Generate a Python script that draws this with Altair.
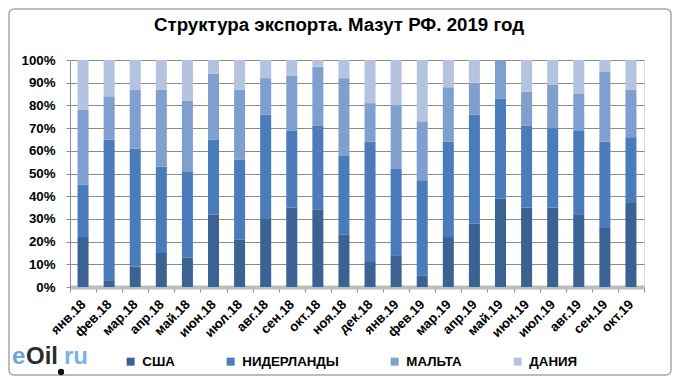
import altair as alt
import pandas as pd

months = ["янв.18", "фев.18", "мар.18", "апр.18", "май.18", "июн.18", "июл.18",
          "авг.18", "сен.18", "окт.18", "ноя.18", "дек.18", "янв.19", "фев.19",
          "мар.19", "апр.19", "май.19", "июн.19", "июл.19", "авг.19", "сен.19", "окт.19"]
series = ["США", "НИДЕРЛАНДЫ", "МАЛЬТА", "ДАНИЯ"]
colors = ["#3a6292", "#4a7bba", "#7f9fce", "#b4c3df"]

usa = [22, 3, 9, 15, 13, 32, 21, 30, 35, 34, 23, 11, 14, 5, 22, 28, 39, 35, 35, 32, 26, 37]
nl = [23, 62, 52, 38, 38, 33, 35, 46, 34, 37, 35, 53, 38, 42, 42, 48, 44, 36, 35, 37, 38, 29]
mt = [33, 19, 26, 34, 31, 29, 31, 16, 24, 26, 34, 17, 28, 26, 24, 14, 17, 15, 19, 16, 31, 21]
dk = [22, 16, 13, 13, 18, 6, 13, 8, 7, 3, 8, 19, 20, 27, 12, 10, 0, 14, 11, 15, 5, 13]

title_text = "Структура экспорта. Мазут РФ. 2019 год"
y_ticks = [i / 10 for i in range(11)]

rows = []
for i, m in enumerate(months):
    for j, (s, vals) in enumerate(zip(series, [usa, nl, mt, dk])):
        rows.append({"month": m, "series": s, "value": vals[i], "ord": j})
df = pd.DataFrame(rows)

FONT = "Liberation Sans"
FS = 13.3

bars = alt.Chart(df).mark_bar(size=11).encode(
    x=alt.X("month:N", sort=months, title=None,
            scale=alt.Scale(paddingInner=0, paddingOuter=0),
            axis=alt.Axis(labelAngle=-45, labelAlign="right", labelBaseline="middle",
                          labelFont=FONT, labelFontWeight="bold", labelFontSize=FS,
                          labelColor="#000000", tickBand="extent", tickColor="#8c8c8c",
                          tickSize=5, domainColor="#bdbdbd", domainWidth=4,
                          labelPadding=10, grid=False)),
    y=alt.Y("value:Q", stack="normalize", title=None,
            scale=alt.Scale(domain=[0, 1]),
            axis=alt.Axis(format=".0%", values=y_ticks, labelFont=FONT,
                          labelFontWeight="bold", labelFontSize=FS, labelColor="#000000",
                          grid=True, gridColor="#8c8c8c", gridWidth=1,
                          domainColor="#8c8c8c", tickColor="#8c8c8c", tickSize=4,
                          labelPadding=11)),
    color=alt.Color("series:N", scale=alt.Scale(domain=series, range=colors),
                    legend=alt.Legend(title=None, orient="none", legendX=54, legendY=295,
                                      direction="horizontal", columns=4, columnPadding=49,
                                      symbolType="square", symbolSize=64,
                                      symbolStrokeWidth=0,
                                      labelFont=FONT, labelFontWeight="bold",
                                      labelFontSize=FS, labelColor="#000000",
                                      labelOffset=5)),
    order=alt.Order("ord:Q"),
)

one = pd.DataFrame({"k": [0]})

border = alt.Chart(one).mark_rect(fill=None, stroke="#a6a6a6", strokeWidth=1.5,
                                  cornerRadius=5).encode(
    x=alt.value(-61), x2=alt.value(601), y=alt.value(-51), y2=alt.value(315))

title = alt.Chart(one).mark_text(align="center", baseline="alphabetic", font=FONT,
                                 fontSize=18.7, fontWeight="bold", color="#000000").encode(
    x=alt.value(269), y=alt.value(-29), text=alt.value(title_text))

logo_e = alt.Chart(one).mark_text(align="left", baseline="alphabetic", font=FONT,
                                  fontSize=24, fontWeight="bold", color="#6aa6da").encode(
    x=alt.value(-58), y=alt.value(304), text=alt.value("e"))
logo_oil = alt.Chart(one).mark_text(align="left", baseline="alphabetic", font=FONT,
                                    fontSize=24, fontWeight="bold", color="#2b2b2b").encode(
    x=alt.value(-44), y=alt.value(304), text=alt.value("Oil"))
logo_ru = alt.Chart(one).mark_text(align="left", baseline="alphabetic", font=FONT,
                                   fontSize=24, fontWeight="bold", color="#7db3e0").encode(
    x=alt.value(-6), y=alt.value(304), text=alt.value("ru"))
logo_drop = alt.Chart(one).mark_point(shape="circle", filled=True, color="#111111",
                                      size=40, opacity=1).encode(
    x=alt.value(-9), y=alt.value(312))

chart = alt.layer(border, bars, title, logo_e, logo_oil, logo_ru, logo_drop).properties(
    width=574, height=227,
    padding={"left": 62, "top": 52, "right": 28, "bottom": 89},
    autosize=alt.AutoSizeParams(type="none"),
).configure_view(stroke=None).configure(background="#ffffff")

chart.save("out.html", embed_options={"renderer": "svg", "actions": False})
